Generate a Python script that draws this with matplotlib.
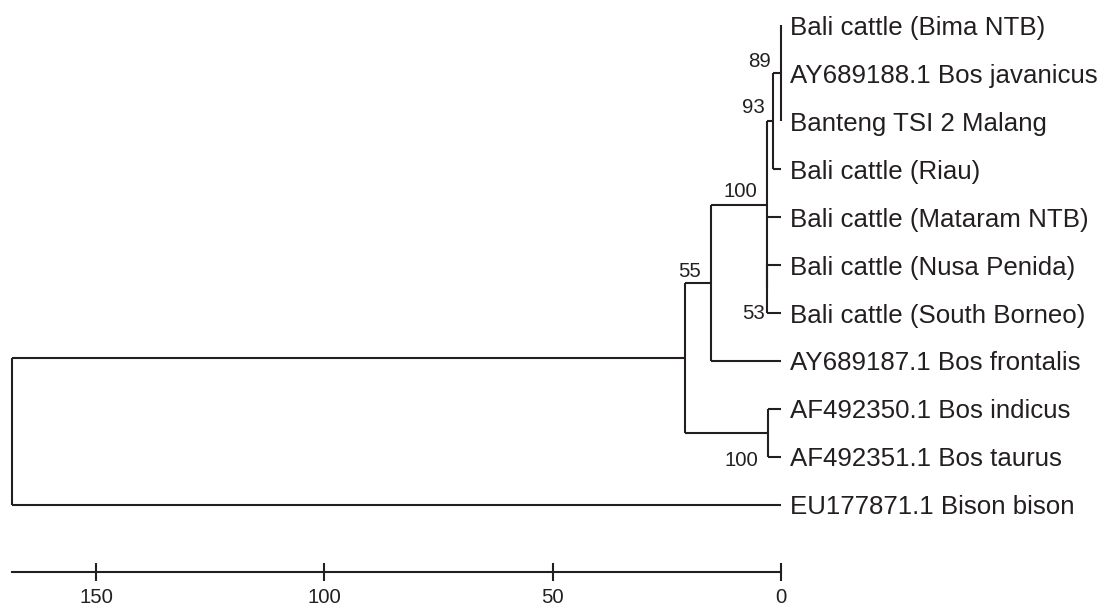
import matplotlib
matplotlib.use("Agg")
import matplotlib.pyplot as plt
from matplotlib.transforms import offset_copy

# ---- data ----
taxa = [
    "Bali cattle (Bima NTB)",
    "AY689188.1 Bos javanicus",
    "Banteng TSI 2 Malang",
    "Bali cattle (Riau)",
    "Bali cattle (Mataram NTB)",
    "Bali cattle (Nusa Penida)",
    "Bali cattle (South Borneo)",
    "AY689187.1 Bos frontalis",
    "AF492350.1 Bos indicus",
    "AF492351.1 Bos taurus",
    "EU177871.1 Bison bison",
]
node_ids = ["A", "B", "C", "D", "E", "F", "G", "R"]
node_children = [
    ["t0", "t1", "t2"],
    ["A", "t3"],
    ["t5", "t6"],
    ["B", "t4", "C"],
    ["D", "t7"],
    ["t8", "t9"],
    ["E", "F"],
    ["G", "t10"],
]
node_height = [0.1, 1.7, 3.0, 3.0, 15.4, 2.9, 21.0, 168.3]
node_support = [89, 93, 53, 100, 55, 100, None, None]
scale_ticks = [0, 50, 100, 150]

# label offsets (points) relative to node join point: (dx, dy, ha)
support_offset = {
    "A": (-7, 10, "right"),
    "B": (-6, 11, "right"),
    "C": (-1.5, -16, "right"),
    "D": (-7, 11, "right"),
    "E": (-7, 10, "right"),
    "F": (-7, -18, "right"),
}

LC = "#231f20"
LW = 1.5

fig = plt.figure(figsize=(11.02, 6.06), dpi=100)
ax = fig.add_axes([0, 0, 1, 1])
px_per_unit = 4.567
x0_px = 781.0
ax.set_xlim(x0_px / px_per_unit, (x0_px - 1102) / px_per_unit)
ax.set_ylim((606 - 25) / 48.0, -25 / 48.0)

# positions
ypos = {f"t{i}": float(i) for i in range(len(taxa))}
hpos = {f"t{i}": 0.0 for i in range(len(taxa))}
for nid, ch, h in zip(node_ids, node_children, node_height):
    ys = [ypos[c] for c in ch]
    ypos[nid] = (ys[0] + ys[-1]) / 2.0
    hpos[nid] = h

for nid, ch, h in zip(node_ids, node_children, node_height):
    ys = [ypos[c] for c in ch]
    ax.plot([h, h], [min(ys), max(ys)], color=LC, lw=LW, solid_capstyle="butt")
    for c in ch:
        ax.plot([h, hpos[c]], [ypos[c], ypos[c]], color=LC, lw=LW,
                solid_capstyle="butt")

for i, name in enumerate(taxa):
    tr = offset_copy(ax.transData, fig=fig, x=6.5, y=0, units="points")
    ax.text(0, i, name, transform=tr, ha="left", va="center_baseline",
            fontsize=18.6, color=LC, family="Liberation Sans")

for nid, sup in zip(node_ids, node_support):
    if sup is None:
        continue
    dx, dy, ha = support_offset[nid]
    tr = offset_copy(ax.transData, fig=fig, x=dx, y=dy, units="points")
    ax.text(hpos[nid], ypos[nid], str(sup), transform=tr, ha=ha,
            va="center_baseline", fontsize=14.7, color=LC,
            family="Liberation Sans")

# scale bar
for s in ["top", "left", "right"]:
    ax.spines[s].set_visible(False)
ybar = (572 - 25) / 48.0
ax.spines["bottom"].set_position(("data", ybar))
ax.spines["bottom"].set_bounds(0, node_height[-1])
ax.spines["bottom"].set_linewidth(LW)
ax.spines["bottom"].set_color(LC)
ax.set_xticks(scale_ticks)
ax.set_xticklabels([str(t) for t in scale_ticks], family="Liberation Sans")
ax.tick_params(axis="x", direction="inout", length=13.5, width=LW,
               color=LC, labelsize=14.7, labelcolor=LC, pad=5)
ax.set_yticks([])
ax.patch.set_visible(False)

fig.savefig("out.png", dpi=100)
